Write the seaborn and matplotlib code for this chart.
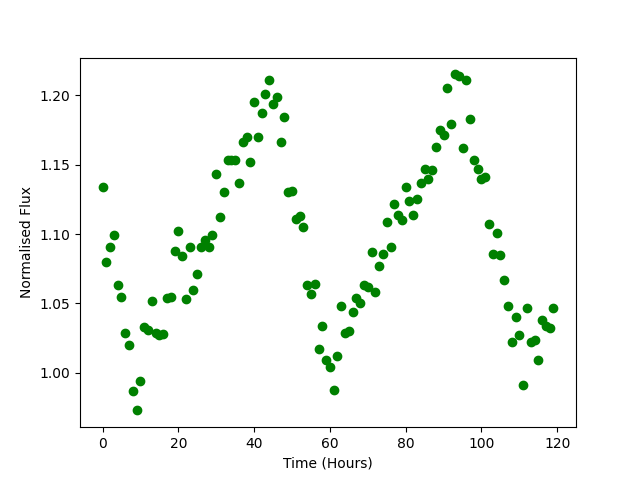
import numpy as np
import pandas as pd
import seaborn as sns
import matplotlib.pyplot as plt

hours = np.arange(120)

flux = [
    1.134, 1.080, 1.091, 1.099, 1.063, 1.055, 1.029, 1.020, 0.987, 0.973,
    0.994, 1.033, 1.031, 1.052, 1.029, 1.027, 1.028, 1.054, 1.055, 1.088,
    1.102, 1.084, 1.053, 1.091, 1.060, 1.071, 1.091, 1.096, 1.091, 1.099,
    1.143, 1.112, 1.130, 1.153, 1.153, 1.153, 1.137, 1.166, 1.170, 1.152,
    1.195, 1.170, 1.187, 1.201, 1.211, 1.194, 1.199, 1.166, 1.184, 1.130,
    1.131, 1.111, 1.113, 1.105, 1.063, 1.057, 1.064, 1.017, 1.034, 1.009,
    1.004, 0.988, 1.012, 1.048, 1.029, 1.030, 1.044, 1.054, 1.050, 1.063,
    1.062, 1.087, 1.058, 1.077, 1.086, 1.109, 1.091, 1.122, 1.114, 1.110,
    1.134, 1.124, 1.114, 1.125, 1.137, 1.147, 1.140, 1.146, 1.163, 1.175,
    1.171, 1.205, 1.179, 1.215, 1.214, 1.162, 1.211, 1.183, 1.153, 1.147,
    1.140, 1.141, 1.107, 1.086, 1.101, 1.085, 1.067, 1.048, 1.022, 1.040,
    1.027, 0.991, 1.047, 1.022, 1.024, 1.009, 1.038, 1.034, 1.032, 1.047,
]

df = pd.DataFrame({'Time (Hours)': hours, 'Normalised Flux': flux})

fig, ax = plt.subplots(figsize=(6.4, 4.8), dpi=100)
sns.scatterplot(data=df, x='Time (Hours)', y='Normalised Flux', color='green',
                edgecolor='green', linewidth=1, s=36, ax=ax)
ax.set_xticks([0, 20, 40, 60, 80, 100, 120])
ax.set_yticks([1.00, 1.05, 1.10, 1.15, 1.20])

fig.savefig('out.png')
